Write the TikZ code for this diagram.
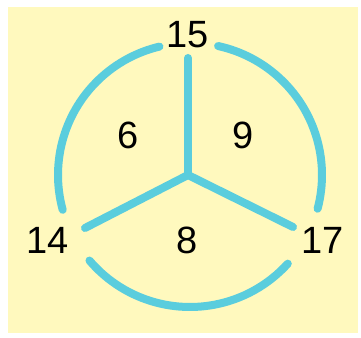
\documentclass[tikz,border=0pt]{standalone}
\usepackage{fontspec}
\setmainfont{Liberation Sans}
\definecolor{bgyellow}{HTML}{FFF9BE}
\definecolor{lcyan}{HTML}{5ACDDD}
\tikzset{
  seg/.style={draw=lcyan, line width=8pt, line cap=round},
  num/.style={font=\fontsize{38}{40}\selectfont, text=black, inner sep=0pt}
}
\begin{document}
\begin{tikzpicture}[x=1pt,y=1pt]
\useasboundingbox (0,0) rectangle (361,337);
\fill[white] (0,0) rectangle (361,337);
\fill[bgyellow] (8,4) rectangle (358,330);
\coordinate (o) at (190,162);
\coordinate (c) at (188,162);
\coordinate (t) at (188,279);
\coordinate (l) at (85,109);
\coordinate (r) at (293,110);
\draw[seg] (c) -- (t);
\draw[seg] (c) -- (l);
\draw[seg] (c) -- (r);
\draw[seg] ([shift={(103.4:132)}]o) arc[start angle=103.4, end angle=195.3, radius=132];
\draw[seg] ([shift={(77.7:132)}]o) arc[start angle=77.7, end angle=-14.8, radius=132];
\draw[seg] ([shift={(220.4:132)}]o) arc[start angle=220.4, end angle=317.8, radius=132];
\node[num] (n15) at (188,302) {15};
\node[num] (n14) at (48,97) {14};
\node[num] (n17) at (323,97) {17};
\node[num] (n6) at (128,202) {6};
\node[num] (n9) at (243,202) {9};
\node[num] (n8) at (187,97) {8};
\end{tikzpicture}
\end{document}
